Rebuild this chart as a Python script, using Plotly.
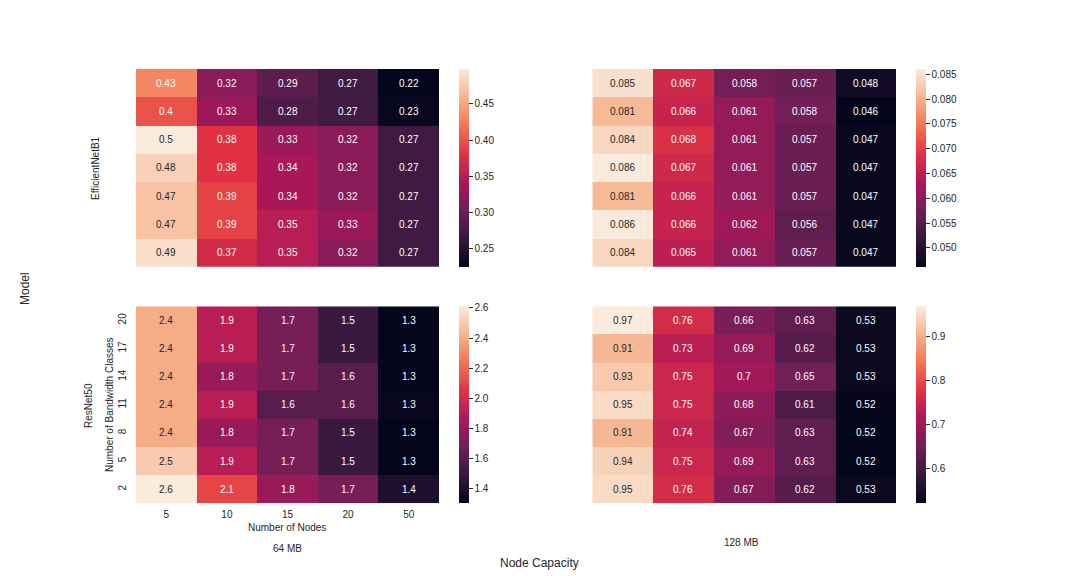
import plotly.graph_objects as go

# ---------------- data ----------------
nodes = ["5", "10", "15", "20", "50"]
bw_classes = ["20", "17", "14", "11", "8", "5", "2"]  # top -> bottom

eff_64 = [
    [0.43, 0.32, 0.29, 0.27, 0.2244],
    [0.40, 0.33, 0.28, 0.27, 0.23],
    [0.4985, 0.38, 0.33, 0.32, 0.27],
    [0.48, 0.38, 0.34, 0.32, 0.27],
    [0.47, 0.39, 0.34, 0.32, 0.27],
    [0.47, 0.39, 0.35, 0.33, 0.27],
    [0.49, 0.37, 0.35, 0.32, 0.27],
]
eff_128 = [
    [0.085, 0.067, 0.058, 0.057, 0.048],
    [0.081, 0.066, 0.061, 0.058, 0.0462],
    [0.084, 0.068, 0.061, 0.057, 0.047],
    [0.0861, 0.067, 0.061, 0.057, 0.047],
    [0.081, 0.066, 0.061, 0.057, 0.047],
    [0.086, 0.066, 0.062, 0.056, 0.047],
    [0.084, 0.065, 0.061, 0.057, 0.047],
]
res_64 = [
    [2.4, 1.9, 1.7, 1.5, 1.31],
    [2.4, 1.9, 1.7, 1.5, 1.31],
    [2.4, 1.8, 1.7, 1.6, 1.30],
    [2.4, 1.9, 1.6, 1.6, 1.32],
    [2.4, 1.8, 1.7, 1.5, 1.30],
    [2.5, 1.9, 1.7, 1.5, 1.30],
    [2.611, 2.1, 1.8, 1.7, 1.4],
]
res_128 = [
    [0.970, 0.76, 0.66, 0.63, 0.53],
    [0.91, 0.73, 0.69, 0.62, 0.53],
    [0.93, 0.75, 0.70, 0.65, 0.53],
    [0.95, 0.75, 0.68, 0.61, 0.5245],
    [0.91, 0.74, 0.67, 0.63, 0.52],
    [0.94, 0.75, 0.69, 0.63, 0.52],
    [0.95, 0.76, 0.67, 0.62, 0.53],
]

# rocket colormap anchors
rocket = [
    (0.0, "#03051a"), (1/7, "#35193e"), (2/7, "#701f57"), (3/7, "#ad1759"),
    (4/7, "#e13342"), (5/7, "#f37651"), (6/7, "#f6b48f"), (1.0, "#faebdd"),
]
colorscale = [[p, c] for p, c in rocket]


def hex2rgb(h):
    h = h.lstrip("#")
    return [int(h[i:i + 2], 16) / 255 for i in (0, 2, 4)]


def cmap(t):
    t = min(max(t, 0), 1)
    for (p0, c0), (p1, c1) in zip(rocket[:-1], rocket[1:]):
        if t <= p1:
            f = (t - p0) / (p1 - p0)
            a, b = hex2rgb(c0), hex2rgb(c1)
            return [a[i] + f * (b[i] - a[i]) for i in range(3)]
    return hex2rgb(rocket[-1][1])


def lum(rgb):
    lin = [c / 12.92 if c <= 0.03928 else ((c + 0.055) / 1.055) ** 2.4 for c in rgb]
    return 0.2126 * lin[0] + 0.7152 * lin[1] + 0.0722 * lin[2]


W, H = 1080, 576
OFF = 8  # page body margin
FONT = "Arial, Liberation Sans, sans-serif"
TXT = "#262626"

def px_x(p):
    return (p - OFF) / W


def px_y(p):
    return 1 - (p - OFF) / H

panels = [
    (eff_64, "", (136, 439), (69, 266.7), 458.5, dict(tickvals=[0.25, 0.30, 0.35, 0.40, 0.45], tickformat=".2f")),
    (eff_128, "2", (592.3, 896), (69, 266.7), 915.5, dict(tickvals=[0.050, 0.055, 0.060, 0.065, 0.070, 0.075, 0.080, 0.085], tickformat=".3f")),
    (res_64, "3", (136, 439), (306.3, 503.3), 458.5, dict(tickvals=[1.4, 1.6, 1.8, 2.0, 2.2, 2.4, 2.6], tickformat=".1f")),
    (res_128, "4", (592.3, 896), (306.3, 503.3), 915.5, dict(tickvals=[0.6, 0.7, 0.8, 0.9], tickformat=".1f")),
]

fig = go.Figure()
annotations = []
layout = {}
for data, s, xd, yd, cbx, tk in panels:
    xa = "x" + s
    ya = "y" + s
    fig.add_trace(go.Heatmap(
        z=data, x=nodes, y=bw_classes, xaxis=xa, yaxis=ya,
        colorscale=colorscale, hoverinfo="z",
        colorbar=dict(
            x=px_x(cbx), xanchor="left", xpad=0, ypad=0,
            y=(px_y(yd[0]) + px_y(yd[1])) / 2, yanchor="middle",
            len=(yd[1] - yd[0]) / H, lenmode="fraction",
            thickness=10, outlinewidth=0,
            ticks="outside", ticklen=4, tickwidth=1, tickcolor=TXT,
            tickfont=dict(family=FONT, size=10, color=TXT),
            **tk,
        ),
    ))
    flat = [v for row in data for v in row]
    vmin, vmax = min(flat), max(flat)
    for i, row in enumerate(data):
        for j, v in enumerate(row):
            rgb = cmap((v - vmin) / (vmax - vmin))
            col = TXT if lum(rgb) > 0.408 else "white"
            # category axes: use category index positions
            annotations.append(dict(
                x=j, y=i, xref=xa, yref=ya,
                text=format(v, ".2g"), showarrow=False,
                font=dict(family=FONT, size=10, color=col),
            ))
    key = "xaxis" + s
    ykey = "yaxis" + s
    show = s == "3"
    layout[key] = dict(
        domain=[px_x(xd[0]), px_x(xd[1])], anchor=ya,
        showticklabels=show, ticks="", showgrid=False, zeroline=False,
        showline=False, type="category", range=[-0.5, len(nodes) - 0.5],
        tickfont=dict(family=FONT, size=10, color=TXT), ticklabelstandoff=4,
    )
    layout[ykey] = dict(
        domain=[px_y(yd[1]), px_y(yd[0])], anchor=xa,
        showticklabels=show, ticks="", showgrid=False, zeroline=False,
        showline=False, type="category", range=[len(bw_classes) - 0.5, -0.5],
        tickangle=-90, tickfont=dict(family=FONT, size=10, color=TXT),
        ticklabelstandoff=7,
    )

def label(text, x, y, size=10, angle=0):
    annotations.append(dict(
        text=text, x=px_x(x), y=px_y(y), xref="paper", yref="paper",
        showarrow=False, textangle=angle, xanchor="center", yanchor="middle",
        font=dict(family=FONT, size=size, color=TXT),
    ))

label("EfficientNetB1", 95, 168, angle=-90)
label("ResNet50", 88, 406, angle=-90)
label("Number of Bandwidth Classes", 109, 405, angle=-90)
label("Number of Nodes", 287, 527.5)
label("64 MB", 287, 548.3)
label("128 MB", 741, 542.5)
label("Node Capacity", 539, 563, size=12)
label("Model", 25, 289, size=12, angle=-90)

fig.update_layout(
    width=W, height=H, margin=dict(l=0, r=0, t=0, b=0),
    paper_bgcolor="white", plot_bgcolor="white",
    annotations=annotations, showlegend=False,
    font=dict(family=FONT, color=TXT),
    **layout,
)

fig.write_html("out.html")
